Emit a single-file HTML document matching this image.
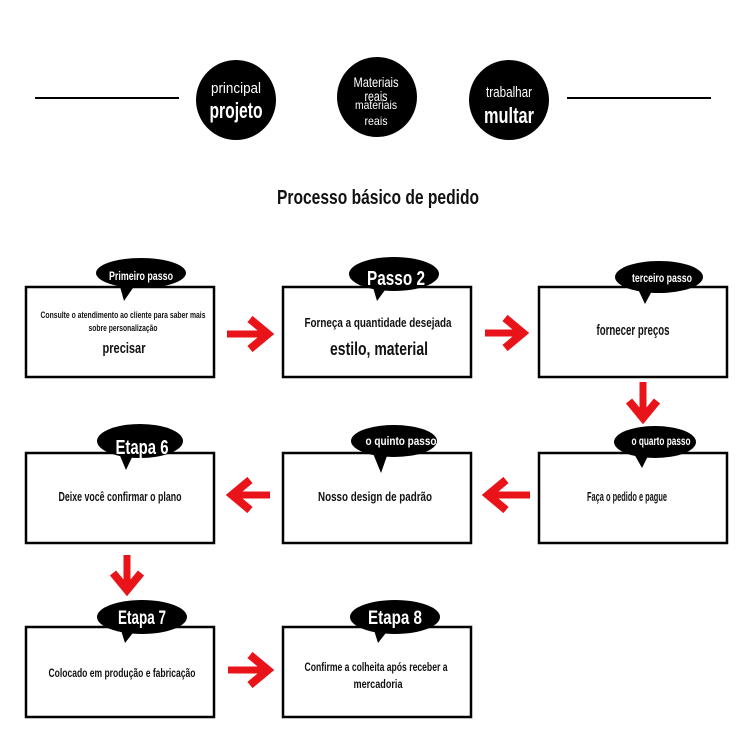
<!DOCTYPE html>
<html>
<head>
<meta charset="utf-8">
<style>
html,body{margin:0;padding:0;background:#fff;}
svg{display:block;}
text{font-family:"Liberation Sans Narrow","Liberation Sans",sans-serif;}
</style>
</head>
<body>
<svg width="750" height="736" viewBox="0 0 750 736" xmlns="http://www.w3.org/2000/svg">
<rect width="750" height="736" fill="#fff"/>
<!-- top lines -->
<line x1="35" y1="98" x2="179" y2="98" stroke="#000" stroke-width="2"/>
<line x1="567" y1="98" x2="711" y2="98" stroke="#000" stroke-width="2"/>
<!-- circles -->
<circle cx="236" cy="100" r="40" fill="#000"/>
<circle cx="377" cy="97" r="40" fill="#000"/>
<circle cx="509" cy="100" r="40" fill="#000"/>
<g fill="#fff" text-anchor="middle">
<text x="236" y="93" font-size="15" textLength="50" lengthAdjust="spacingAndGlyphs">principal</text>
<text x="236" y="118" font-size="22" font-weight="bold" textLength="53" lengthAdjust="spacingAndGlyphs">projeto</text>
<text x="376" y="87" font-size="14" textLength="45" lengthAdjust="spacingAndGlyphs">Materiais</text>
<text x="376" y="101" font-size="14" textLength="23" lengthAdjust="spacingAndGlyphs">reais</text>
<text x="376" y="109" font-size="12" textLength="42" lengthAdjust="spacingAndGlyphs">materiais</text>
<text x="376" y="125" font-size="12" textLength="23" lengthAdjust="spacingAndGlyphs">reais</text>
<text x="509" y="97" font-size="15" textLength="46" lengthAdjust="spacingAndGlyphs">trabalhar</text>
<text x="509" y="123" font-size="22" font-weight="bold" textLength="50" lengthAdjust="spacingAndGlyphs">multar</text>
</g>
<!-- title -->
<text x="378" y="204" font-size="20" font-weight="bold" text-anchor="middle" fill="#111" textLength="202" lengthAdjust="spacingAndGlyphs">Processo básico de pedido</text>

<!-- boxes -->
<g fill="#fff" stroke="#000" stroke-width="2.5">
<rect x="26" y="287" width="188" height="90"/>
<rect x="283" y="287" width="188" height="90"/>
<rect x="539" y="287" width="188" height="90"/>
<rect x="26" y="453" width="188" height="90"/>
<rect x="283" y="453" width="188" height="90"/>
<rect x="539" y="453" width="188" height="90"/>
<rect x="26" y="627" width="188" height="90"/>
<rect x="283" y="627" width="188" height="90"/>
</g>

<!-- bubbles -->
<g fill="#000">
<ellipse cx="141" cy="273" rx="45" ry="15"/>
<polygon points="119,283 135,285 124,301"/>
<ellipse cx="394" cy="274" rx="45" ry="17"/>
<polygon points="372,284 388,286 377,301"/>
<ellipse cx="659" cy="277" rx="44" ry="16"/>
<polygon points="637,287 653,289 645,304"/>
<ellipse cx="140" cy="441" rx="43" ry="17"/>
<polygon points="118,451 134,453 126,470"/>
<ellipse cx="394" cy="441" rx="43" ry="16"/>
<polygon points="372,451 388,453 381,473"/>
<ellipse cx="655" cy="442" rx="41" ry="16"/>
<polygon points="633,452 649,454 642,468"/>
<ellipse cx="142" cy="617" rx="45" ry="17"/>
<polygon points="120,627 136,629 125,643"/>
<ellipse cx="395" cy="617" rx="45" ry="17"/>
<polygon points="373,627 389,629 378,643"/>
</g>
<g fill="#fff" text-anchor="middle">
<text x="141" y="280" font-size="12" font-weight="bold" textLength="64" lengthAdjust="spacingAndGlyphs">Primeiro passo</text>
<text x="396" y="285" font-size="20" font-weight="bold" textLength="58" lengthAdjust="spacingAndGlyphs">Passo 2</text>
<text x="662" y="282" font-size="12" font-weight="bold" textLength="60" lengthAdjust="spacingAndGlyphs">terceiro passo</text>
<text x="142" y="454" font-size="20" font-weight="bold" textLength="53" lengthAdjust="spacingAndGlyphs">Etapa 6</text>
<text x="401" y="445" font-size="12" font-weight="bold" textLength="71" lengthAdjust="spacingAndGlyphs">o quinto passo</text>
<text x="661" y="445" font-size="12" font-weight="bold" textLength="59" lengthAdjust="spacingAndGlyphs">o quarto passo</text>
<text x="142" y="624" font-size="19" font-weight="bold" textLength="48" lengthAdjust="spacingAndGlyphs">Etapa 7</text>
<text x="395" y="624" font-size="19" font-weight="bold" textLength="54" lengthAdjust="spacingAndGlyphs">Etapa 8</text>
</g>

<!-- box texts -->
<g fill="#111" text-anchor="middle" font-weight="bold">
<text x="123" y="318" font-size="9" textLength="165" lengthAdjust="spacingAndGlyphs">Consulte o atendimento ao cliente para saber mais</text>
<text x="123" y="331" font-size="9" textLength="69" lengthAdjust="spacingAndGlyphs">sobre personalização</text>
<text x="124" y="353" font-size="15" textLength="43" lengthAdjust="spacingAndGlyphs">precisar</text>
<text x="378" y="327" font-size="13" textLength="147" lengthAdjust="spacingAndGlyphs">Forneça a quantidade desejada</text>
<text x="379" y="355" font-size="18" textLength="98" lengthAdjust="spacingAndGlyphs">estilo, material</text>
<text x="633" y="335" font-size="15" textLength="73" lengthAdjust="spacingAndGlyphs">fornecer preços</text>
<text x="120" y="501" font-size="13" textLength="123" lengthAdjust="spacingAndGlyphs">Deixe você confirmar o plano</text>
<text x="375" y="501" font-size="13" textLength="114" lengthAdjust="spacingAndGlyphs">Nosso design de padrão</text>
<text x="627" y="501" font-size="13" textLength="80" lengthAdjust="spacingAndGlyphs">Faça o pedido e pague</text>
<text x="122" y="677" font-size="12" textLength="147" lengthAdjust="spacingAndGlyphs">Colocado em produção e fabricação</text>
<text x="376" y="671" font-size="12" textLength="143" lengthAdjust="spacingAndGlyphs">Confirme a colheita após receber a</text>
<text x="378" y="688" font-size="12" textLength="49" lengthAdjust="spacingAndGlyphs">mercadoria</text>
</g>

<!-- arrows -->
<g stroke="#e8141a" fill="none" stroke-linejoin="miter" stroke-miterlimit="10">
<line x1="227" y1="334" x2="266" y2="334" stroke-width="7"/>
<polyline points="250,319 268,334 250,349" stroke-width="8"/>
<line x1="485" y1="333" x2="521" y2="333" stroke-width="7"/>
<polyline points="505,318 523,333 505,348" stroke-width="8"/>
<line x1="643" y1="382" x2="643" y2="417" stroke-width="7"/>
<polyline points="629,401 643,418 657,401" stroke-width="8"/>
<line x1="530" y1="495" x2="490" y2="495" stroke-width="7"/>
<polyline points="506,480 488,495 506,510" stroke-width="8"/>
<line x1="270" y1="495" x2="234" y2="495" stroke-width="7"/>
<polyline points="250,480 232,495 250,510" stroke-width="8"/>
<line x1="127" y1="555" x2="127" y2="589" stroke-width="7"/>
<polyline points="113,573 127,590 141,573" stroke-width="8"/>
<line x1="228" y1="670" x2="266" y2="670" stroke-width="7"/>
<polyline points="250,655 268,670 250,685" stroke-width="8"/>
</g>
</svg>
</body>
</html>
